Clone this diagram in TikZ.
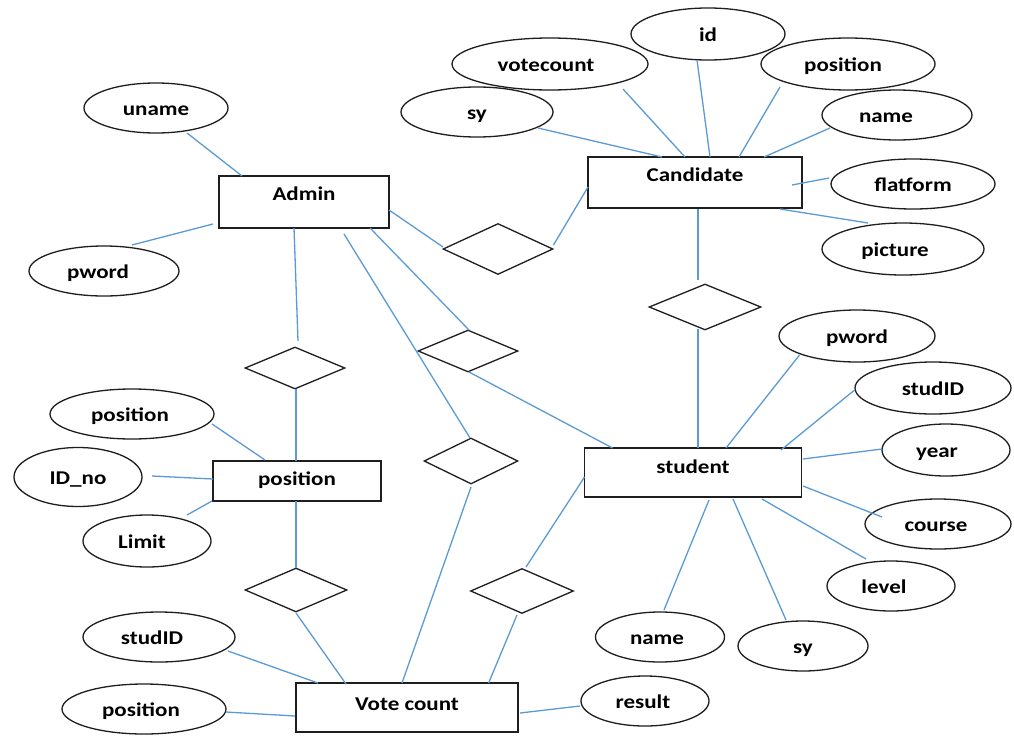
\documentclass[tikz,border=0pt]{standalone}
\usepackage{graphicx}
\usepackage{fontspec}
\setmainfont{Carlito}
\usetikzlibrary{shapes.geometric}
\definecolor{lnblue}{RGB}{91,155,213}
\definecolor{ink}{RGB}{30,30,30}
\newcommand\lbl[2][0]{\makebox[0pt]{\hspace*{#1pt}\hspace*{#1pt}\scalebox{1.18}[1]{#2}}}
\tikzset{
  erfont/.style={font=\bfseries\fontsize{19.5pt}{22pt}\selectfont},
  attr/.style={ellipse, draw=ink, line width=1.3pt, inner sep=0pt, erfont,
    text height=15pt, text depth=0pt},
  ent/.style={rectangle, draw=ink, line width=1.3pt, inner sep=0pt, erfont,
    text height=12pt},
  rel/.style={diamond, draw=ink, line width=1.3pt, inner sep=0pt},
  conn/.style={draw=lnblue, line width=1.3pt},
}
\begin{document}
\begin{tikzpicture}[x=1pt,y=-1pt]
\fill[white] (0,0) rectangle (1014,736);
\useasboundingbox (0,0) rectangle (1014,736);

% entities
\node[ent, minimum width=170pt, minimum height=52pt, text depth=15pt] (admin) at (304,202) {\lbl{Admin}};
\node[ent, minimum width=214pt, minimum height=51pt, text depth=14pt] (cand) at (695,182.5) {\lbl{Candidate}};
\node[ent, minimum width=217pt, minimum height=49pt, text depth=11pt] (stud) at (693,472.5) {\lbl{student}};
\node[ent, minimum width=168pt, minimum height=40pt, text depth=3pt] (pos) at (297,481) {\lbl{position}};
\node[ent, minimum width=222pt, minimum height=49pt, text depth=7pt] (vc) at (407,707.5) {\lbl{Vote count}};

% relationships
\node[rel, minimum width=110pt, minimum height=51pt] (dAC) at (498,249) {};
\node[rel, minimum width=112pt, minimum height=46pt] (dCS) at (705,307) {};
\node[rel, minimum width=100pt, minimum height=42pt] (dAS) at (468,351) {};
\node[rel, minimum width=94pt, minimum height=46pt] (dAV) at (471,461) {};
\node[rel, minimum width=103pt, minimum height=45pt] (dSV) at (522,591) {};
\node[rel, minimum width=100pt, minimum height=42pt] (dAP) at (295,368) {};
\node[rel, minimum width=102pt, minimum height=44pt] (dPV) at (296,590) {};

% attributes
\node[attr, minimum width=144pt, minimum height=50pt] (uname) at (156,108) {\lbl{uname}};
\node[attr, minimum width=150pt, minimum height=50pt] (apword) at (104,271) {\lbl[-6]{pword}};
\node[attr, minimum width=196pt, minimum height=52pt] (votecount) at (550,64) {\lbl[-4]{votecount}};
\node[attr, minimum width=154pt, minimum height=52pt] (id) at (708,34) {\lbl{id}};
\node[attr, minimum width=174pt, minimum height=52pt] (cposition) at (848,64) {\lbl[-5]{position}};
\node[attr, minimum width=152pt, minimum height=50pt] (csy) at (477,112) {\lbl{sy}};
\node[attr, minimum width=150pt, minimum height=50pt] (cname) at (897,115) {\lbl[-11]{name}};
\node[attr, minimum width=164pt, minimum height=50pt] (flatform) at (913,184) {\lbl{flatform}};
\node[attr, minimum width=162pt, minimum height=52pt] (picture) at (903,249) {\lbl[-8]{picture}};
\node[attr, minimum width=156pt, minimum height=52pt] (spword) at (857,336) {\lbl{pword}};
\node[attr, minimum width=156pt, minimum height=52pt] (studID) at (933,388) {\lbl{studID}};
\node[attr, minimum width=128pt, minimum height=52pt] (year) at (946,450) {\lbl[-9]{year}};
\node[attr, minimum width=146pt, minimum height=50pt] (course) at (938,524) {\lbl[-2]{course}};
\node[attr, minimum width=128pt, minimum height=50pt] (level) at (891,586) {\lbl[-7]{level}};
\node[attr, minimum width=130pt, minimum height=50pt] (ssy) at (803,646) {\lbl{sy}};
\node[attr, minimum width=129pt, minimum height=50pt] (sname) at (660,637) {\lbl[-3]{name}};
\node[attr, minimum width=128pt, minimum height=50pt] (result) at (645,701) {\lbl[-2]{result}};
\node[attr, minimum width=164pt, minimum height=50pt] (pposition) at (132,414) {\lbl[-2]{position}};
\node[attr, minimum width=128pt, minimum height=59pt] (idno) at (78,477) {\lbl{ID\_no}};
\node[attr, minimum width=128pt, minimum height=52pt] (limit) at (147,541) {\lbl[-5]{Limit}};
\node[attr, minimum width=152pt, minimum height=50pt] (vstudID) at (159,637) {\lbl[-7]{studID}};
\node[attr, minimum width=164pt, minimum height=50pt] (vposition) at (144,709) {\lbl[-3]{position}};

% connectors
\draw[conn] ([shift={(31,25)}]uname.center) -- ([shift={(-62,-26)}]admin.center);
\draw[conn] ([shift={(28,-26)}]apword.center) -- ([shift={(-91,22)}]admin.center);
\draw[conn] ([shift={(-10,26)}]admin.center) -- ([shift={(3,-27)}]dAP.center);
\draw[conn] ([shift={(66,26)}]admin.center) -- ([shift={(1,-21)}]dAS.center);
\draw[conn] ([shift={(40,32)}]admin.center) -- ([shift={(-1,-23)}]dAV.center);
\draw[conn] ([shift={(85,8)}]admin.center) -- ([shift={(-55,-2)}]dAC.center);
\draw[conn] ([shift={(55.5,-4)}]dAC.center) -- ([shift={(-107,4.5)}]cand.center);
\draw[conn] ([shift={(61,16)}]csy.center) -- ([shift={(-33,-25.5)}]cand.center);
\draw[conn] ([shift={(73,25)}]votecount.center) -- ([shift={(-10,-25.5)}]cand.center);
\draw[conn] ([shift={(-11,26)}]id.center) -- ([shift={(15,-25.5)}]cand.center);
\draw[conn] ([shift={(-68,23)}]cposition.center) -- ([shift={(44,-25.5)}]cand.center);
\draw[conn] ([shift={(-67,13)}]cname.center) -- ([shift={(69,-25.5)}]cand.center);
\draw[conn] ([shift={(-84,-6)}]flatform.center) -- ([shift={(97,2.5)}]cand.center);
\draw[conn] ([shift={(-35,-26)}]picture.center) -- ([shift={(85,26.5)}]cand.center);
\draw[conn] ([shift={(3,26.5)}]cand.center) -- ([shift={(-7,-27)}]dCS.center);
\draw[conn] ([shift={(-7,22)}]dCS.center) -- ([shift={(5,-24.5)}]stud.center);
\draw[conn] ([shift={(-57.5,19)}]spword.center) -- ([shift={(33,-24.5)}]stud.center);
\draw[conn] ([shift={(-78.4,2)}]studID.center) -- ([shift={(88,-22.5)}]stud.center);
\draw[conn] ([shift={(-64,-1)}]year.center) -- ([shift={(110,-13.5)}]stud.center);
\draw[conn] ([shift={(-56,-7)}]course.center) -- ([shift={(110,13.5)}]stud.center);
\draw[conn] ([shift={(-25,-27)}]level.center) -- ([shift={(69,26.5)}]stud.center);
\draw[conn] ([shift={(-17,-26)}]ssy.center) -- ([shift={(40,26.5)}]stud.center);
\draw[conn] ([shift={(4,-27)}]sname.center) -- ([shift={(16,27.5)}]stud.center);
\draw[conn] ([shift={(1,21)}]dAS.center) -- ([shift={(-80.5,-24.5)}]stud.center);
\draw[conn] ([shift={(0,26)}]dAV.center) -- ([shift={(-5,-24.5)}]vc.center);
\draw[conn] ([shift={(-108.5,4.5)}]stud.center) -- ([shift={(4,-24)}]dSV.center);
\draw[conn] ([shift={(-5,24)}]dSV.center) -- ([shift={(81.6,-24.5)}]vc.center);
\draw[conn] ([shift={(113,5.5)}]vc.center) -- ([shift={(-65,5)}]result.center);
\draw[conn] ([shift={(1,21)}]dAP.center) -- ([shift={(-1,-20)}]pos.center);
\draw[conn] ([shift={(80,10)}]pposition.center) -- ([shift={(-32,-21)}]pos.center);
\draw[conn] ([shift={(74,-1)}]idno.center) -- ([shift={(-84,-2)}]pos.center);
\draw[conn] ([shift={(40,-26)}]limit.center) -- ([shift={(-85,20)}]pos.center);
\draw[conn] ([shift={(-1,20)}]pos.center) -- ([shift={(0,-22)}]dPV.center);
\draw[conn] ([shift={(0,23)}]dPV.center) -- ([shift={(-61,-23.5)}]vc.center);
\draw[conn] ([shift={(69,14)}]vstudID.center) -- ([shift={(-89,-24.5)}]vc.center);
\draw[conn] ([shift={(82,3)}]vposition.center) -- ([shift={(-112,8.5)}]vc.center);
\end{tikzpicture}
\end{document}
